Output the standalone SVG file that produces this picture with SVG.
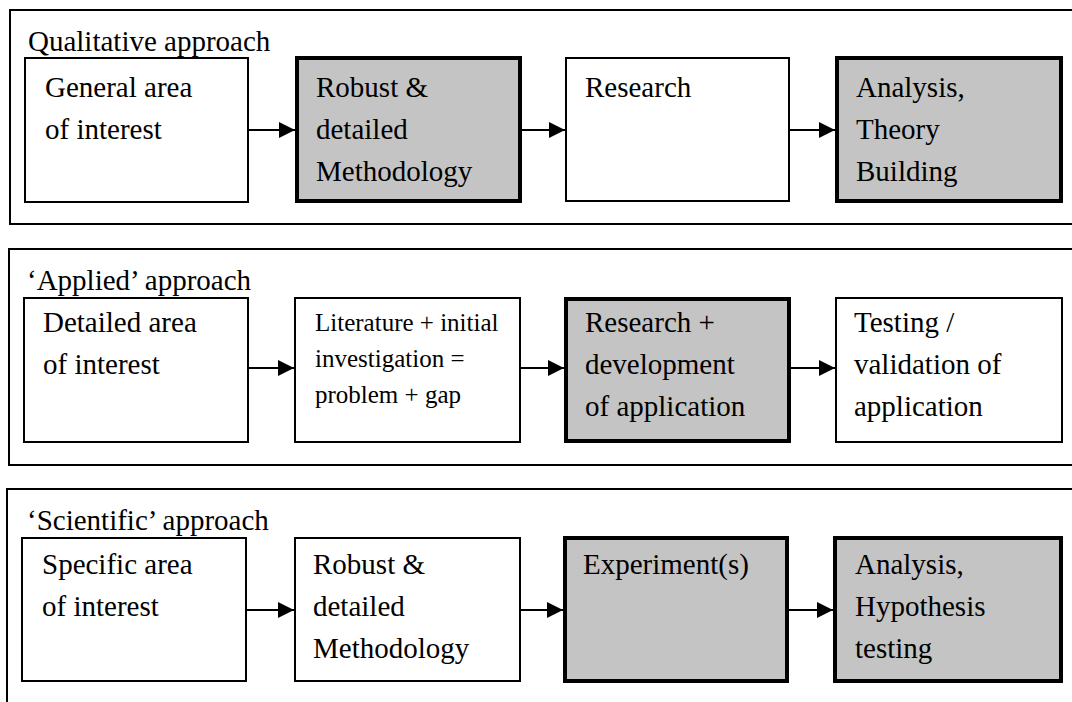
<svg xmlns="http://www.w3.org/2000/svg" width="1072" height="702" viewBox="0 0 1072 702">
<defs>
<style>
text{font-family:"Liberation Serif","Times New Roman",serif;font-size:29px;fill:#000}
.small{font-size:25px}
.frame{fill:none;stroke:#000;stroke-width:2}
.box{fill:#fff;stroke:#000;stroke-width:2}
.gbox{fill:#c4c4c4;stroke:#000;stroke-width:4}
.conn{fill:none;stroke:#000;stroke-width:2.2}
</style>
<marker id="arr" markerUnits="userSpaceOnUse" markerWidth="17" markerHeight="16" refX="16" refY="8" orient="auto">
<path d="M0,0 L16,8 L0,16 Z" fill="#000"/>
</marker>
</defs>
<rect width="1072" height="702" fill="#fff"/>

<g id="panel-qualitative">
<path class="frame" d="M1072,10 H10 V224 H1072"/>
<text x="28" y="51">Qualitative approach</text>
</g>
<g id="panel-applied">
<path class="frame" d="M1072,249 H9 V465 H1072"/>
<text x="27" y="290">‘Applied’ approach</text>
</g>
<g id="panel-scientific">
<path class="frame" d="M1072,489 H7 V702"/>
<text x="27" y="530">‘Scientific’ approach</text>
</g>

<g id="q1"><rect class="box" x="25" y="58" width="223" height="144"/>
<text x="45" y="97">General area</text><text x="45" y="139">of interest</text></g>
<g id="q2"><rect class="gbox" x="297" y="58" width="223" height="143"/>
<text x="316" y="97">Robust &amp;</text><text x="316" y="139">detailed</text><text x="316" y="181">Methodology</text></g>
<g id="q3"><rect class="box" x="566" y="58" width="223" height="143"/>
<text x="585" y="97">Research</text></g>
<g id="q4"><rect class="gbox" x="837" y="58" width="224" height="143"/>
<text x="856" y="97">Analysis,</text><text x="856" y="139">Theory</text><text x="856" y="181">Building</text></g>

<g id="a1"><rect class="box" x="24" y="298" width="224" height="144"/>
<text x="43" y="332">Detailed area</text><text x="43" y="374">of interest</text></g>
<g id="a2"><rect class="box" x="295" y="298" width="225" height="144"/>
<text class="small" x="315" y="331">Literature + initial</text><text class="small" x="315" y="367">investigation =</text><text class="small" x="315" y="403">problem + gap</text></g>
<g id="a3"><rect class="gbox" x="566" y="299" width="223" height="142"/>
<text x="585" y="332">Research +</text><text x="585" y="374">development</text><text x="585" y="416">of application</text></g>
<g id="a4"><rect class="box" x="836" y="298" width="226" height="144"/>
<text x="854" y="332">Testing /</text><text x="854" y="374">validation of</text><text x="854" y="416">application</text></g>

<g id="s1"><rect class="box" x="22" y="538" width="224" height="143"/>
<text x="42" y="574">Specific area</text><text x="42" y="616">of interest</text></g>
<g id="s2"><rect class="box" x="295" y="538" width="225" height="143"/>
<text x="313" y="574">Robust &amp;</text><text x="313" y="616">detailed</text><text x="313" y="658">Methodology</text></g>
<g id="s3"><rect class="gbox" x="565" y="538" width="222" height="143"/>
<text x="583" y="574">Experiment(s)</text></g>
<g id="s4"><rect class="gbox" x="835" y="538" width="226" height="143"/>
<text x="855" y="574">Analysis,</text><text x="855" y="616">Hypothesis</text><text x="855" y="658">testing</text></g>

<g id="connectors">
<path class="conn" d="M248,130 H295" marker-end="url(#arr)"/>
<path class="conn" d="M520,130 H565" marker-end="url(#arr)"/>
<path class="conn" d="M789,130 H835" marker-end="url(#arr)"/>
<path class="conn" d="M248,368 H294" marker-end="url(#arr)"/>
<path class="conn" d="M520,368 H564" marker-end="url(#arr)"/>
<path class="conn" d="M789,368 H835" marker-end="url(#arr)"/>
<path class="conn" d="M246,610 H294" marker-end="url(#arr)"/>
<path class="conn" d="M520,610 H563" marker-end="url(#arr)"/>
<path class="conn" d="M787,610 H833" marker-end="url(#arr)"/>
</g>
</svg>
